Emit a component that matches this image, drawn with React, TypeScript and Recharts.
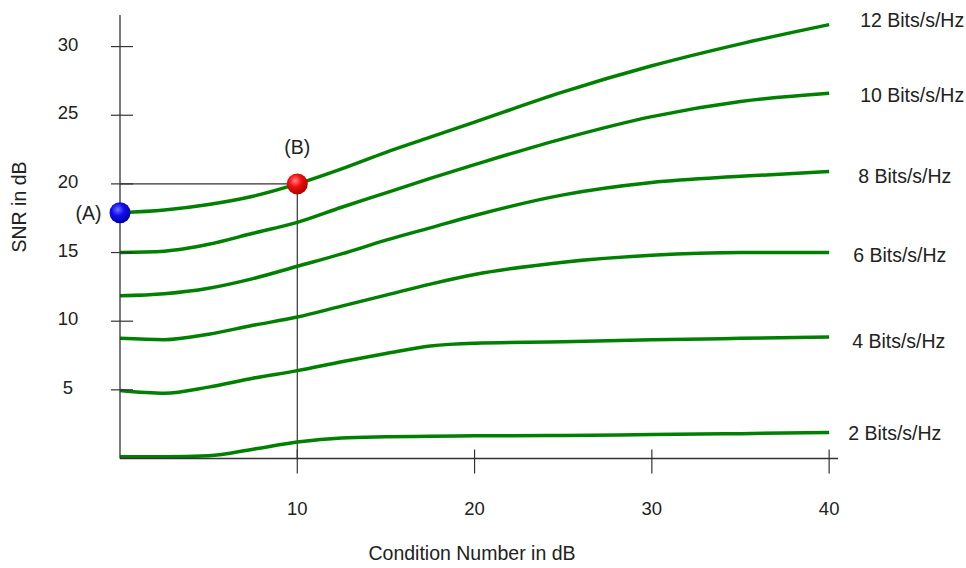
import React from 'react';
import {
  LineChart,
  Line,
  XAxis,
  YAxis,
  ReferenceLine,
  ReferenceDot,
  LabelList,
  Label,
} from 'recharts';

// condition number in dB (x)
const conditionDb = [0, 2.5, 5, 7.5, 10, 12.5, 15, 17.5, 20, 25, 30, 35, 40];

// SNR in dB needed for each spectral efficiency
const bits12 = [17.9, 18.1, 18.5, 19.1, 20.0, 21.1, 22.3, 23.4, 24.5, 26.7, 28.6, 30.2, 31.6];
const bits10 = [15.0, 15.1, 15.6, 16.4, 17.2, 18.3, 19.35, 20.4, 21.4, 23.3, 24.9, 26.0, 26.6];
const bits8 = [11.85, 12.0, 12.4, 13.1, 14.0, 14.9, 15.9, 16.8, 17.7, 19.2, 20.1, 20.55, 20.9];
const bits6 = [8.75, 8.65, 9.05, 9.7, 10.3, 11.1, 11.9, 12.7, 13.4, 14.3, 14.8, 15.0, 15.0];
const bits4 = [4.95, 4.75, 5.2, 5.85, 6.4, 7.05, 7.65, 8.2, 8.4, 8.5, 8.65, 8.75, 8.85];
const bits2 = [0.13, 0.13, 0.2, 0.67, 1.2, 1.5, 1.58, 1.62, 1.65, 1.68, 1.74, 1.81, 1.9];

const seriesKeys = ['b12', 'b10', 'b8', 'b6', 'b4', 'b2'];
const seriesValues = [bits12, bits10, bits8, bits6, bits4, bits2];
const seriesNames = [
  '12 Bits/s/Hz',
  '10 Bits/s/Hz',
  '8 Bits/s/Hz',
  '6 Bits/s/Hz',
  '4 Bits/s/Hz',
  '2 Bits/s/Hz',
];

const xTicks = [10, 20, 30, 40];
const yTicks = [5, 10, 15, 20, 25, 30];

const pointA = { x: 0, y: 17.9, label: '(A)' };
const pointB = { x: 10, y: 20, label: '(B)' };

const data = conditionDb.map((x, i) => {
  const row: any = { x };
  seriesKeys.forEach((k, s) => {
    row[k] = seriesValues[s][i];
  });
  return row;
});

const FONT = '"Liberation Sans", Arial, sans-serif';
const TEXT = '#222';
const AXIS = '#333';
const GREEN = '#008000';

// where the end labels sit relative to the last point
const labelDx = [31, 31, 29, 24, 23, 19];
const labelDy = [-5, 2, 4, 2, 4, 1];

const YTick = (props: any) => {
  const { x, payload } = props;
  const y = payload.coordinate;
  return (
    <g>
      <line x1={x - 9} y1={y} x2={x + 13} y2={y} stroke={AXIS} strokeWidth={1.2} />
      <text x={x - 52} y={y + 4} textAnchor="middle" fontSize={18.5} fontFamily={FONT} fill={TEXT}>
        {payload.value}
      </text>
    </g>
  );
};

const XTick = (props: any) => {
  const { y, payload } = props;
  const x = payload.coordinate;
  return (
    <g>
      <line x1={x} y1={y - 9} x2={x} y2={y + 15} stroke={AXIS} strokeWidth={1.2} />
      <text x={x} y={y + 56} textAnchor="middle" fontSize={18.5} fontFamily={FONT} fill={TEXT}>
        {payload.value}
      </text>
    </g>
  );
};

const endLabel = (s: number) => (props: any) => {
  const { x, y, index } = props;
  if (index !== conditionDb.length - 1) return null;
  return (
    <text
      x={x + labelDx[s]}
      y={y + labelDy[s]}
      dominantBaseline="central"
      fontSize={19.5}
      fontFamily={FONT}
      fill={TEXT}
    >
      {seriesNames[s]}
    </text>
  );
};

export default function App() {
  return (
    <div style={{ position: 'absolute', left: 0, top: 0, background: '#fff' }}>
      <LineChart
        width={966}
        height={568}
        data={data}
        margin={{ top: 15, right: 128, left: 0, bottom: 0 }}
      >
        <defs>
          <radialGradient id="gradA" cx="40%" cy="35%" r="65%">
            <stop offset="0%" stopColor="#6f6fff" />
            <stop offset="45%" stopColor="#1010ee" />
            <stop offset="100%" stopColor="#0000a8" />
          </radialGradient>
          <radialGradient id="gradB" cx="40%" cy="35%" r="65%">
            <stop offset="0%" stopColor="#ff8080" />
            <stop offset="45%" stopColor="#f01010" />
            <stop offset="100%" stopColor="#b00000" />
          </radialGradient>
        </defs>
        <XAxis
          dataKey="x"
          type="number"
          domain={[0, 40.5]}
          ticks={xTicks}
          height={109.5}
          axisLine={{ stroke: AXIS, strokeWidth: 1.3 }}
          tickLine={false}
          tickSize={0}
          tickMargin={0}
          tick={<XTick />}
        >
          <Label
            content={(p: any) => (
              <text
                x={472}
                y={p.viewBox.y + 101}
                textAnchor="middle"
                fontSize={19.5}
                fontFamily={FONT}
                fill={TEXT}
              >
                Condition Number in dB
              </text>
            )}
          />
        </XAxis>
        <YAxis
          type="number"
          domain={[0, 32.3]}
          ticks={yTicks}
          width={120}
          axisLine={{ stroke: AXIS, strokeWidth: 1.3 }}
          tickLine={false}
          tickSize={0}
          tickMargin={0}
          tick={<YTick />}
        >
          <Label
            content={() => (
              <text
                x={26}
                y={207}
                transform="rotate(-90 26 207)"
                textAnchor="middle"
                fontSize={19.5}
                fontFamily={FONT}
                fill={TEXT}
              >
                SNR in dB
              </text>
            )}
          />
        </YAxis>
        <ReferenceLine
          segment={[
            { x: pointA.x, y: pointB.y },
            { x: pointB.x, y: pointB.y },
          ]}
          stroke={AXIS}
          strokeWidth={1.2}
        />
        <ReferenceLine
          segment={[
            { x: pointB.x, y: 0 },
            { x: pointB.x, y: pointB.y },
          ]}
          stroke={AXIS}
          strokeWidth={1.2}
        />
        {seriesKeys.map((k, s) => (
          <Line
            key={k}
            dataKey={k}
            type="monotone"
            stroke={GREEN}
            strokeWidth={3.5}
            dot={false}
            isAnimationActive={false}
          >
            <LabelList dataKey={k} content={endLabel(s)} />
          </Line>
        ))}
        <ReferenceDot
          x={pointA.x}
          y={pointA.y}
          r={10.5}
          fill="url(#gradA)"
          stroke="none"
          label={{
            value: pointA.label,
            position: 'left',
            offset: 8,
            fontSize: 19.5,
            fontFamily: FONT,
            fill: TEXT,
          }}
        />
        <ReferenceDot
          x={pointB.x}
          y={pointB.y}
          r={10.5}
          fill="url(#gradB)"
          stroke="none"
          label={{
            value: pointB.label,
            position: 'top',
            offset: 19,
            fontSize: 19.5,
            fontFamily: FONT,
            fill: TEXT,
          }}
        />
      </LineChart>
    </div>
  );
}
